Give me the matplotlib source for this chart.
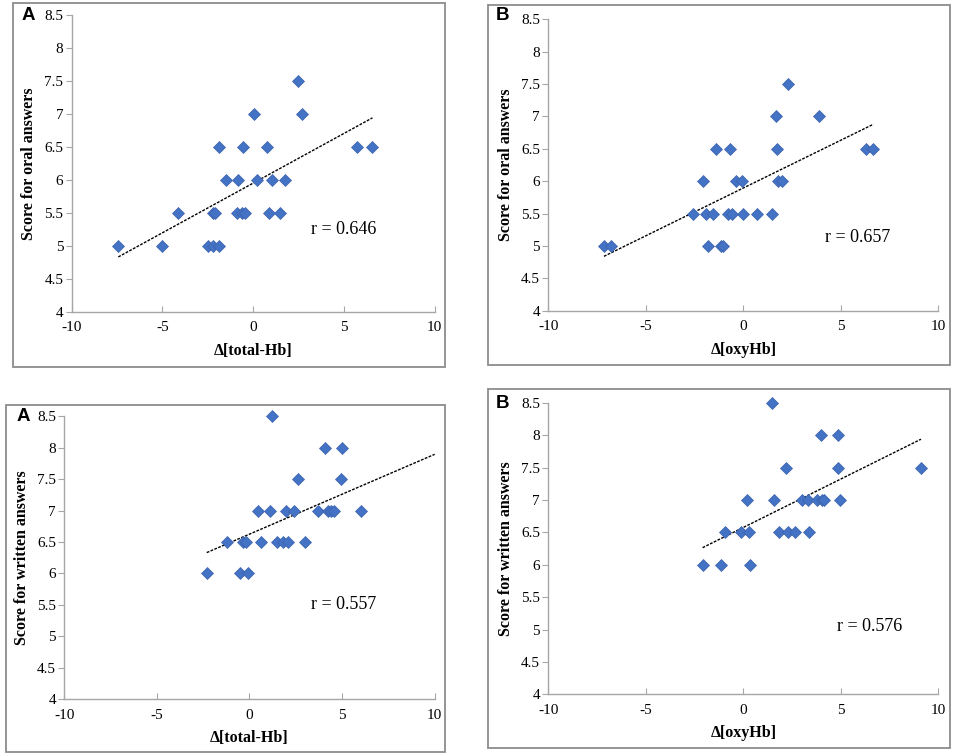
import matplotlib
matplotlib.use('Agg')
import matplotlib.pyplot as plt
from matplotlib.patches import Rectangle
import numpy as np

# Panel A (top): delta total-Hb vs oral score
oral_total_x = [-7.43, -5.04, -4.14, -2.51, -2.19, -1.86, -2.19, -2.10, -1.86, -1.48,
                -0.82, -0.87, -0.60, -0.45, -0.58, 0.06, 0.23, 0.78, 0.85, 1.02,
                1.48, 1.75, 2.45, 2.69, 5.72, 6.57]
oral_total_y = [5.0, 5.0, 5.5, 5.0, 5.0, 5.0, 5.5, 5.5, 6.5, 6.0,
                6.0, 5.5, 5.5, 5.5, 6.5, 7.0, 6.0, 6.5, 5.5, 6.0,
                5.5, 6.0, 7.5, 7.0, 6.5, 6.5]

# Panel B (top): delta oxyHb vs oral score
oral_oxy_x = [-7.15, -6.77, -2.56, -2.05, -1.91, -1.79, -1.54, -1.40, -1.16, -1.06,
              -0.80, -0.56, -0.68, -0.38, -0.07, 0.00, 0.68, 1.45, 1.66, 1.74,
              1.79, 2.00, 2.31, 3.88, 6.29, 6.67]
oral_oxy_y = [5.0, 5.0, 5.5, 6.0, 5.5, 5.0, 5.5, 6.5, 5.0, 5.0,
              5.5, 5.5, 6.5, 6.0, 6.0, 5.5, 5.5, 5.5, 7.0, 6.5,
              6.0, 6.0, 7.5, 7.0, 6.5, 6.5]

# Panel A (bottom): delta total-Hb vs written score
written_total_x = [-2.31, -1.20, -0.51, -0.33, -0.19, -0.06, 0.48, 0.60, 1.11, 1.20,
                   1.50, 1.83, 2.06, 1.97, 2.42, 2.64, 2.98, 3.68, 4.08, 4.26,
                   4.40, 4.58, 4.98, 4.96, 6.02]
written_total_y = [6.0, 6.5, 6.0, 6.5, 6.5, 6.0, 7.0, 6.5, 7.0, 8.5,
                   6.5, 6.5, 6.5, 7.0, 7.0, 7.5, 6.5, 7.0, 8.0, 7.0,
                   7.0, 7.0, 8.0, 7.5, 7.0]

# Panel B (bottom): delta oxyHb vs written score
written_oxy_x = [-2.09, -1.15, -0.94, -0.12, 0.17, 0.31, 0.36, 1.45, 1.56, 1.81,
                 2.21, 2.31, 2.67, 2.99, 3.33, 3.38, 3.76, 4.02, 4.14, 3.97,
                 4.87, 4.87, 4.96, 9.11]
written_oxy_y = [6.0, 6.0, 6.5, 6.5, 7.0, 6.5, 6.0, 8.5, 7.0, 6.5,
                 7.5, 6.5, 6.5, 7.0, 7.0, 6.5, 7.0, 7.0, 7.0, 8.0,
                 8.0, 7.5, 7.0, 7.5]

# linear trendlines (slope, intercept)
trend_slope = [0.1507, 0.1476, 0.1271, 0.1496]
trend_intercept = [5.950, 5.895, 6.624, 6.578]
trend_end = [None, None, 10.0, None]

letters = ['A', 'B', 'A', 'B']
x_labels = ['Δ[total-Hb]', 'Δ[oxyHb]', 'Δ[total-Hb]', 'Δ[oxyHb]']
y_labels = ['Score for oral answers', 'Score for oral answers',
            'Score for written answers', 'Score for written answers']
r_texts = ['r = 0.646', 'r = 0.657', 'r = 0.557', 'r = 0.576']
r_pos = [(3.2, 5.25), (4.2, 5.13), (3.3, 5.5), (4.8, 5.04)]

datasets = [(oral_total_x, oral_total_y), (oral_oxy_x, oral_oxy_y),
            (written_total_x, written_total_y), (written_oxy_x, written_oxy_y)]

# axes rectangles and surrounding frames, in figure fractions
axes_rects = [[0.0749, 0.5872, 0.3793, 0.3929],
              [0.5730, 0.5885, 0.4075, 0.3859],
              [0.0672, 0.0742, 0.3870, 0.3744],
              [0.5730, 0.0804, 0.4075, 0.3858]]
frame_rects = [[0.0136, 0.5139, 0.4514, 0.4821],
               [0.5099, 0.5166, 0.4828, 0.4768],
               [0.0063, 0.0040, 0.4587, 0.4596],
               [0.5099, 0.0093, 0.4828, 0.4755]]
letter_pos = [(0.0293, 0.980), (0.5246, 0.980), (0.0240, 0.4477), (0.5246, 0.4662)]

serif = 'Liberation Serif'
marker_color = '#4472C4'
spine_color = '#A6A6A6'

fig = plt.figure(figsize=(9.57, 7.55), dpi=100)

for i, (xs, ys) in enumerate(datasets):
    fr = frame_rects[i]
    fig.add_artist(Rectangle((fr[0], fr[1]), fr[2], fr[3], transform=fig.transFigure,
                             fill=False, edgecolor='#8C8C8C', linewidth=1.3))
    ax = fig.add_axes(axes_rects[i])
    xs = np.array(xs)
    ys = np.array(ys)
    ax.plot(xs, ys, linestyle='none', marker='D', markersize=6.0,
            markerfacecolor=marker_color, markeredgecolor='#3A62AC',
            markeredgewidth=0.5, zorder=3, clip_on=False)

    x_end = trend_end[i] if trend_end[i] is not None else xs.max()
    tx = np.array([xs.min(), x_end])
    ax.plot(tx, trend_slope[i] * tx + trend_intercept[i], linestyle=(0, (2, 1)),
            color='black', linewidth=1.0, zorder=2)

    ax.set_xlim(-10, 10)
    ax.set_ylim(4, 8.5)
    ax.set_xticks([-10, -5, 0, 5, 10])
    ax.set_xticklabels(['-10', '-5', '0', '5', '10'])
    ax.set_yticks(np.arange(4, 8.51, 0.5))
    ax.set_yticklabels(['4', '4.5', '5', '5.5', '6', '6.5', '7', '7.5', '8', '8.5'])
    for side in ['top', 'right']:
        ax.spines[side].set_visible(False)
    for side in ['left', 'bottom']:
        ax.spines[side].set_color(spine_color)
        ax.spines[side].set_linewidth(1.0)
    ax.tick_params(axis='x', direction='in', length=4, color=spine_color,
                   labelsize=11, pad=7)
    ax.tick_params(axis='y', direction='out', length=4, color=spine_color,
                   labelsize=11, pad=2)
    for lab in ax.get_xticklabels() + ax.get_yticklabels():
        lab.set_fontfamily(serif)
    ax.set_xlabel(x_labels[i], fontfamily=serif, fontweight='bold', fontsize=11.5,
                  labelpad=6)
    ax.set_ylabel(y_labels[i], fontfamily=serif, fontweight='bold', fontsize=11.5,
                  labelpad=5)
    ax.text(r_pos[i][0], r_pos[i][1], r_texts[i], fontfamily=serif, fontsize=13,
            ha='left', va='center')
    ax.patch.set_alpha(0)

    fig.text(letter_pos[i][0], letter_pos[i][1], letters[i], fontfamily='Liberation Sans',
             fontweight='bold', fontsize=13.5, ha='center', va='center')

fig.savefig('out.png', dpi=100, facecolor='white')
